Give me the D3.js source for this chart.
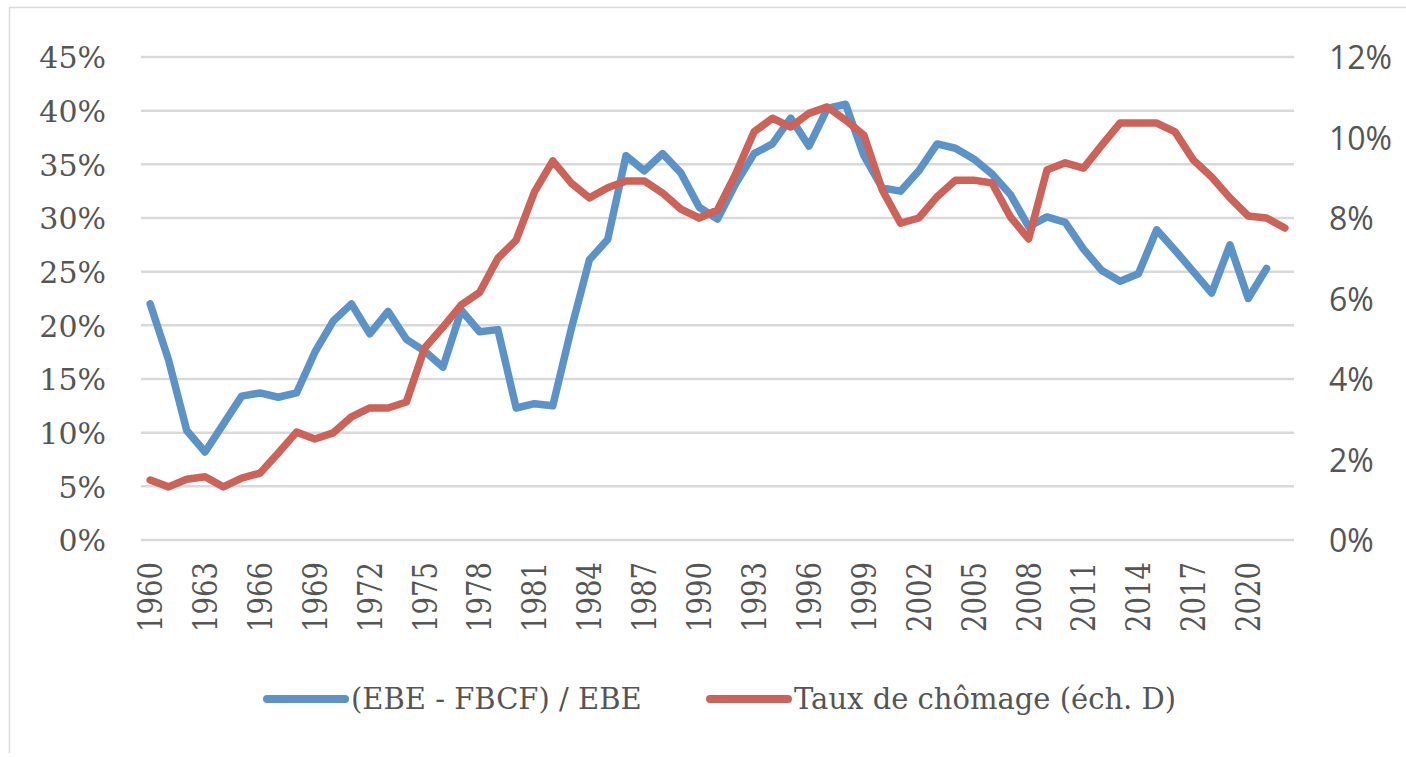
<!DOCTYPE html>
<html>
<head>
<meta charset="utf-8">
<script src="https://cdn.jsdelivr.net/npm/d3@7"></script>
<style>
  body { margin: 0; background: #fff; }
  svg { display: block; }
</style>
</head>
<body>
<svg id="chart" width="1406" height="757"></svg>
<script>
const years = d3.range(1960, 2023)

// (EBE - FBCF) / EBE, in %, left scale (1960-2021)
const ebeShare = [
  22.0, 16.8, 10.2, 8.2, 10.8, 13.4, 13.7, 13.3, 13.7, 17.5,
  20.4, 22.0, 19.2, 21.3, 18.7, 17.6, 16.1, 21.4, 19.4, 19.6,
  12.3, 12.7, 12.5, 19.6, 26.1, 28.0, 35.8, 34.4, 36.0, 34.2,
  31.0, 29.9, 33.2, 36.0, 36.9, 39.3, 36.7, 40.2, 40.6, 35.8,
  32.8, 32.5, 34.4, 36.9, 36.5, 35.5, 34.1, 32.2, 29.2, 30.1,
  29.6, 27.1, 25.1, 24.1, 24.8, 28.9, 27.0, 25.0, 23.0, 27.5,
  22.5, 25.3
]

// Taux de chômage, in %, right scale (1960-2022)
const unemployment = [
  1.49, 1.32, 1.51, 1.57, 1.32, 1.54, 1.66, 2.16, 2.68, 2.51,
  2.66, 3.06, 3.28, 3.28, 3.43, 4.77, 5.29, 5.84, 6.15, 7.0,
  7.45, 8.65, 9.42, 8.87, 8.5, 8.75, 8.92, 8.92, 8.62, 8.22,
  8.0, 8.2, 9.1, 10.14, 10.48, 10.26, 10.6, 10.76, 10.43, 10.06,
  8.7, 7.87, 8.0, 8.53, 8.94, 8.94, 8.87, 8.03, 7.48, 9.19,
  9.37, 9.24, 9.81, 10.36, 10.36, 10.36, 10.14, 9.44, 9.02, 8.5,
  8.05, 8.0, 7.75
]

const leftTicks = [0, 5, 10, 15, 20, 25, 30, 35, 40, 45]
const rightTicks = [0, 2, 4, 6, 8, 10, 12]
const yearLabels = years.filter((y, i) => i % 3 === 0 && y <= 2020)
const seriesNames = ["(EBE - FBCF) / EBE", "Taux de chômage (éch. D)"]
const seriesColors = ["#5b93c9", "#cd6259"]

const svg = d3.select("#chart")
const margin = { left: 141, right: 112, top: 57, bottom: 217 }
const width = 1406, height = 757
const plotW = width - margin.left - margin.right
const plotH = height - margin.top - margin.bottom
const serif = "'DejaVu Serif', serif"

// light chart frame (top and left edges visible)
svg.append("path")
  .attr("d", "M9.5,753 V7.5 H1406")
  .attr("fill", "none")
  .attr("stroke", "#d9d9d9")
  .attr("stroke-width", 1.5)

const g = svg.append("g").attr("transform", `translate(${margin.left},${margin.top})`)

const x = d3.scaleBand().domain(years).range([0, plotW])
const xc = d => x(d) + x.bandwidth() / 2
const yLeft = d3.scaleLinear().domain([0, 45]).range([plotH, 0])
const yRight = d3.scaleLinear().domain([0, 12]).range([plotH, 0])

// gridlines
g.append("g")
  .selectAll("line")
  .data(leftTicks)
  .enter().append("line")
    .attr("x1", 0).attr("x2", plotW)
    .attr("y1", d => yLeft(d)).attr("y2", d => yLeft(d))
    .attr("stroke", "#d9d9d9")
    .attr("stroke-width", 2.5)

// left axis
const leftAxis = g.append("g")
  .call(d3.axisLeft(yLeft).tickValues(leftTicks).tickFormat(d => d + "%").tickSize(0).tickPadding(35))
leftAxis.select(".domain").remove()
leftAxis.selectAll("text")
  .attr("fill", "#555")
  .attr("font-family", serif)
  .attr("font-size", 30)
  .attr("dy", "0.36em")

// right axis
const rightAxis = g.append("g")
  .attr("transform", `translate(${plotW},0)`)
  .call(d3.axisRight(yRight).tickValues(rightTicks).tickFormat(d => d + "%").tickSize(0).tickPadding(35))
rightAxis.select(".domain").remove()
rightAxis.selectAll("text")
  .attr("fill", "#555")
  .attr("font-family", "'Open Sans', sans-serif")
  .attr("font-size", 32)
  .attr("dy", "0.36em")

// x axis labels, rotated (glyphs a bit taller across, as in the original)
const xAxis = g.append("g")
  .attr("transform", `translate(0,${plotH})`)
  .call(d3.axisBottom(x).tickValues(yearLabels).tickSize(0))
xAxis.select(".domain").remove()
xAxis.selectAll("text")
  .attr("fill", "#555")
  .attr("font-family", serif)
  .attr("font-size", 27.5)
  .attr("text-anchor", "end")
  .attr("transform", "rotate(-90) scale(1,1.2)")
  .attr("x", -22)
  .attr("y", 0)
  .attr("dy", "0.36em")

// lines
const lineLeft = d3.line()
  .x((d, i) => xc(years[i]))
  .y(d => yLeft(d))
const lineRight = d3.line()
  .x((d, i) => xc(years[i]))
  .y(d => yRight(d))

g.append("path")
  .datum(ebeShare)
  .attr("d", lineLeft)
  .attr("fill", "none")
  .attr("stroke", seriesColors[0])
  .attr("stroke-width", 7.5)
  .attr("stroke-linejoin", "round")
  .attr("stroke-linecap", "round")

g.append("path")
  .datum(unemployment)
  .attr("d", lineRight)
  .attr("fill", "none")
  .attr("stroke", seriesColors[1])
  .attr("stroke-width", 7.5)
  .attr("stroke-linejoin", "round")
  .attr("stroke-linecap", "round")

// legend
const legendX = [267, 710]
const legend = svg.append("g")
  .selectAll("g")
  .data(seriesNames)
  .enter().append("g")
    .attr("transform", (d, i) => `translate(${legendX[i]},699)`)

legend.append("line")
  .attr("x1", 0).attr("x2", 78)
  .attr("y1", 0).attr("y2", 0)
  .attr("stroke", (d, i) => seriesColors[i])
  .attr("stroke-width", 8)
  .attr("stroke-linecap", "round")

legend.append("text")
  .attr("x", 84)
  .attr("y", 0)
  .attr("dy", "0.36em")
  .attr("fill", "#555")
  .attr("font-family", serif)
  .attr("font-size", 29)
  .text(d => d)
</script>
</body>
</html>
